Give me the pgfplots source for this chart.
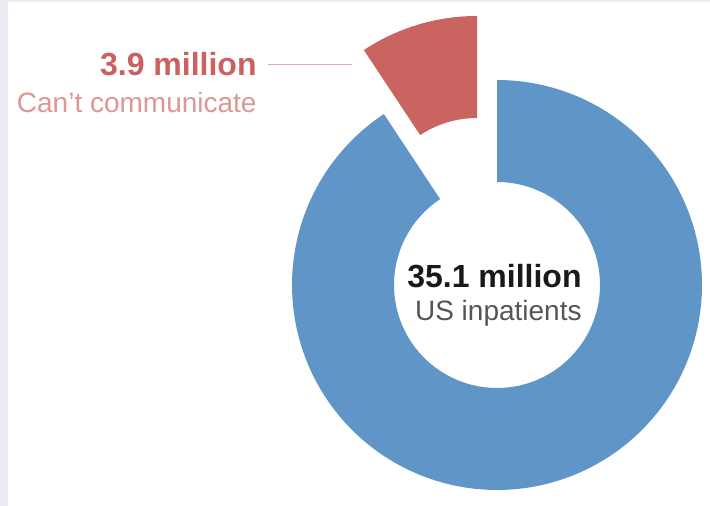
\documentclass[border=0pt]{standalone}
\usepackage{pgfplots}
\pgfplotsset{compat=1.18}
\usepgfplotslibrary{fillbetween}
\usepackage{fontspec}
\setmainfont{Liberation Sans}
\definecolor{ringblue}{HTML}{6096C7}
\definecolor{slicered}{HTML}{C96460}
\definecolor{labred}{HTML}{CC5F5F}
\definecolor{lablight}{HTML}{DE9694}
\definecolor{lineRed}{HTML}{E8A8A8}
\definecolor{frame}{HTML}{ECEDF3}
\definecolor{txtgray}{HTML}{555555}
% data (millions) and slice angles
\def\total{35.1}
\def\part{3.9}
\def\redStart{90}
\def\redEnd{123.5}
\def\blueStart{123.5}
\def\blueEnd{450}
\def\Ro{205}
\def\Ri{103}
\begin{document}
\begin{tikzpicture}
\begin{axis}[x=0.5pt,y=0.5pt,xmin=0,xmax=710,ymin=0,ymax=506,
  hide axis,clip=false]
\path (axis cs:0,0) rectangle (axis cs:710,506);
\fill[frame] (axis cs:0,0) rectangle (axis cs:8,506);
\fill[frame] (axis cs:0,504) rectangle (axis cs:710,506);
% blue ring (rest of total)
\addplot[name path=bo,draw=none,domain=\blueStart:\blueEnd,samples=200]
  ({497+\Ro*cos(x)},{221+\Ro*sin(x)});
\addplot[name path=bi,draw=none,domain=\blueStart:\blueEnd,samples=200]
  ({497+\Ri*cos(x)},{221+\Ri*sin(x)});
\addplot[fill=ringblue,draw=none] fill between[of=bo and bi];
% exploded red slice
\addplot[name path=ro,draw=none,domain=\redStart:\redEnd,samples=40]
  ({477+\Ro*cos(x)},{285+\Ro*sin(x)});
\addplot[name path=ri,draw=none,domain=\redStart:\redEnd,samples=40]
  ({477+\Ri*cos(x)},{285+\Ri*sin(x)});
\addplot[fill=slicered,draw=none] fill between[of=ro and ri];
% labels
\draw[lineRed,line width=0.6pt] (axis cs:268,441.7) -- (axis cs:352,441.7);
\node[anchor=base east,inner sep=0,text=labred,font=\bfseries\fontsize{16}{19}\selectfont]
  at (axis cs:257,430) {\part\ million};
\node[anchor=base east,inner sep=0,text=lablight,font=\fontsize{14}{17}\selectfont]
  at (axis cs:257,393.3) {Can\char39 t communicate};
\node[anchor=base east,inner sep=0,text=black!90,font=\bfseries\fontsize{16}{19}\selectfont]
  at (axis cs:582,218.7) {\total\ million};
\node[anchor=base east,inner sep=0,text=txtgray,font=\fontsize{14}{17}\selectfont]
  at (axis cs:582,185.3) {US inpatients};
\end{axis}
\end{tikzpicture}
\end{document}
